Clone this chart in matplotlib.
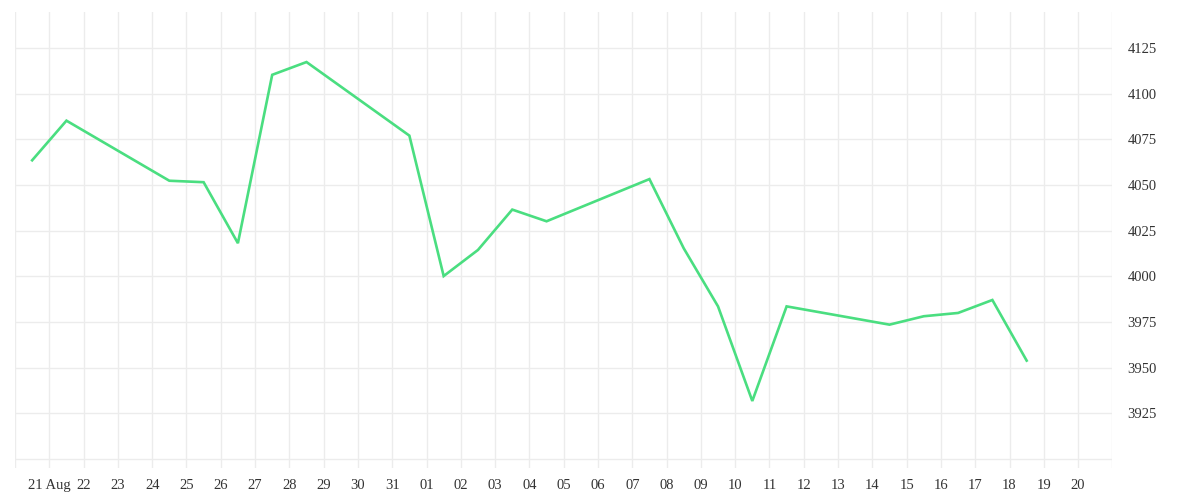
import matplotlib
matplotlib.use("Agg")
import matplotlib.pyplot as plt
import pandas as pd

# data (one point per trading day, drawn at midday)
dates = ["2020-08-20", "2020-08-21", "2020-08-24", "2020-08-25", "2020-08-26",
         "2020-08-27", "2020-08-28", "2020-08-31", "2020-09-01", "2020-09-02",
         "2020-09-03", "2020-09-04", "2020-09-07", "2020-09-08", "2020-09-09",
         "2020-09-10", "2020-09-11", "2020-09-14", "2020-09-15", "2020-09-16",
         "2020-09-17", "2020-09-18"]
values = [4063.6, 4085.3, 4052.4, 4051.6, 4018.2,
          4110.4, 4117.4, 4077.1, 4000.2, 4014.5,
          4036.6, 4030.2, 4053.3, 4015.4, 3983.6,
          3931.8, 3983.6, 3973.6, 3978.2, 3980.0,
          3987.1, 3953.9]
y_ticks = [3900, 3925, 3950, 3975, 4000, 4025, 4050, 4075, 4100, 4125]
tick_days = pd.date_range("2020-08-20", "2020-09-21", freq="D")

x = pd.to_datetime(dates) + pd.Timedelta(hours=12)

plt.rcParams['font.family'] = ['Liberation Serif', 'DejaVu Serif']

fig = plt.figure(figsize=(12, 5), dpi=100)
ax = fig.add_axes([0.0125, 0.064, 0.9145, 0.912])

ax.plot(x, values, color='#4ade80', linewidth=1.9, solid_joinstyle='miter')

ax.set_xlim(pd.Timestamp("2020-08-20"), pd.Timestamp("2020-09-21"))
ax.set_ylim(3895.1, 4144.8)

# daily ticks, first labelled one carries the month
ax.set_xticks(tick_days)
labels = []
for d in tick_days:
    if d == pd.Timestamp("2020-08-21"):
        labels.append("21 Aug")
    elif d in (pd.Timestamp("2020-08-20"), pd.Timestamp("2020-09-21")):
        labels.append("")
    else:
        labels.append(d.strftime("%d"))
ax.set_xticklabels(labels)

ax.set_yticks(y_ticks)
ax.set_yticklabels(["" if v == 3900 else str(v) for v in y_ticks])
ax.yaxis.tick_right()

ax.grid(True, color='#ececec', linewidth=1)
ax.set_axisbelow(True)
for s in ax.spines.values():
    s.set_visible(False)

ax.tick_params(axis='both', length=0, labelsize=10.5, colors='#333333')
ax.tick_params(axis='x', pad=8)
ax.tick_params(axis='y', pad=11)

fig.savefig("out.png", dpi=100, facecolor='white')
